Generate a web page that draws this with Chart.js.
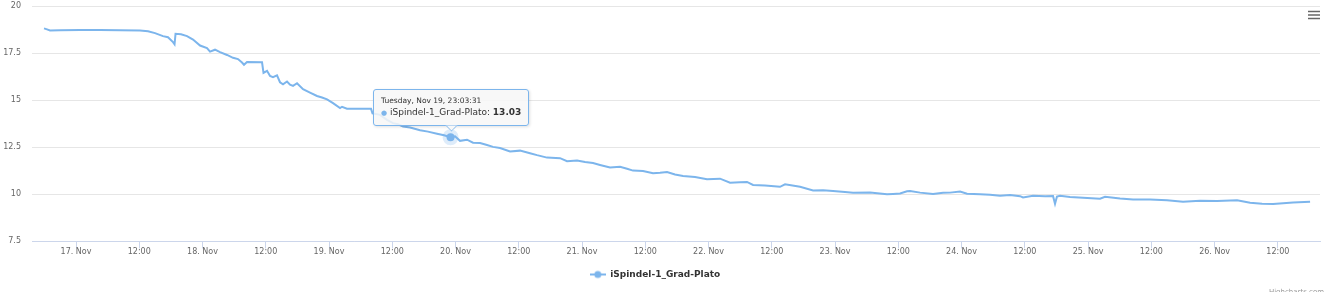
<!DOCTYPE html>
<html>
<head>
<meta charset="utf-8">
<title>iSpindel-1_Grad-Plato</title>
<script src="https://cdn.jsdelivr.net/npm/chart.js@4.4.1/dist/chart.umd.min.js"></script>
<style>
  html, body { margin: 0; padding: 0; background: #fff; }
  #wrap { position: relative; width: 1328px; height: 292px; overflow: hidden; }
  #tip {
    position: absolute; display: none; pointer-events: none;
    font-family: "DejaVu Sans", sans-serif; color: #333;
    background: rgba(247, 247, 247, 0.85);
    border: 1px solid #7cb5ec; border-radius: 3px;
    box-shadow: 1px 1px 3px rgba(0, 0, 0, 0.12);
    padding: 5px 7px 5px 7px; white-space: nowrap;
  }
  #tip .t { font-size: 7.5px; line-height: 11px; }
  #tip .b { font-size: 9px; line-height: 13px; }
  #tip .dot { color: #7cb5ec; font-size: 7px; }
  #tip .arrow {
    position: absolute; left: 50%; bottom: -5px; width: 8px; height: 8px;
    margin-left: -4px; background: #f8f8f8;
    border-right: 1px solid #7cb5ec; border-bottom: 1px solid #7cb5ec;
    transform: rotate(45deg);
    clip-path: polygon(100% 0, 100% 100%, 0 100%);
  }
</style>
</head>
<body>
<div id="wrap">
  <canvas id="chart" width="1328" height="292"></canvas>
  <div id="tip"></div>
</div>
<script>
const seriesName = "iSpindel-1_Grad-Plato";

// hours since 16 Nov 2019 00:00
const hours = [
  17.93, 18.5, 19.07, 20.96, 24.76, 28.55, 32.35, 36.14, 37.66, 38.99,
  40.5, 41.45, 42.4, 42.69, 42.88, 43.92, 45.06, 46.2, 47.53, 48.85,
  49.42, 50.37, 51.32, 52.65, 53.79, 54.73, 55.49, 55.87, 56.44, 59.29,
  59.57, 60.24, 60.81, 61.37, 62.13, 62.7, 63.27, 64.03, 64.6, 65.17,
  65.93, 67.07, 68.39, 69.72, 70.67, 71.62, 72.76, 74.09, 74.47, 75.41,
  77.88, 79.97, 80.25, 81.67, 83.0, 84.14, 85.09, 86.04, 87.37, 89.27,
  90.78, 92.49, 93.82, 95.0586, 95.9, 96.85, 98.18, 99.32, 100.65, 101.97,
  103.11, 104.44, 106.34, 108.23, 110.13, 111.46, 113.36, 115.83, 117.15, 119.05,
  120.57, 122.08, 123.41, 125.31, 127.21, 128.54, 129.67, 131.57, 133.47, 134.8,
  136.13, 137.64, 139.16, 141.44, 143.71, 146.18, 148.08, 149.97, 151.3, 152.44,
  154.72, 157.56, 158.51, 161.36, 163.83, 165.72, 167.62, 169.89, 171.41, 174.64,
  177.86, 179.0, 180.33, 181.66, 182.23, 184.13, 186.59, 188.49, 189.82, 191.72,
  193.04, 195.51, 197.41, 199.3, 201.2, 203.1, 203.66, 205.56, 207.84, 209.35,
  209.73, 210.1, 210.68, 212.58, 215.04, 218.27, 219.22, 222.07, 224.53, 227.76,
  230.98, 234.02, 237.25, 240.47, 244.27, 246.74, 249.01, 251.1, 253.0, 254.9,
  258.12
];

const plato = [
  18.81, 18.76, 18.70, 18.71, 18.72, 18.72, 18.71, 18.70, 18.66, 18.56,
  18.40, 18.34, 18.08, 17.97, 18.52, 18.50, 18.40, 18.22, 17.90, 17.76,
  17.58, 17.68, 17.55, 17.40, 17.25, 17.18, 17.00, 16.88, 17.03, 17.01,
  16.45, 16.56, 16.28, 16.22, 16.32, 15.95, 15.84, 15.99, 15.82, 15.76,
  15.90, 15.58, 15.40, 15.22, 15.14, 15.04, 14.84, 14.58, 14.65, 14.55,
  14.55, 14.54, 14.30, 14.22, 13.95, 13.78, 13.72, 13.60, 13.55, 13.40,
  13.33, 13.22, 13.14, 13.03, 13.08, 12.84, 12.90, 12.74, 12.72, 12.62,
  12.52, 12.46, 12.28, 12.32, 12.18, 12.08, 11.95, 11.92, 11.76, 11.80,
  11.72, 11.66, 11.56, 11.42, 11.46, 11.36, 11.26, 11.24, 11.12, 11.14,
  11.18, 11.05, 10.97, 10.92, 10.80, 10.83, 10.62, 10.64, 10.66, 10.50,
  10.47, 10.40, 10.53, 10.40, 10.20, 10.22, 10.18, 10.12, 10.08, 10.10,
  10.00, 10.02, 10.04, 10.16, 10.18, 10.09, 10.02, 10.08, 10.09, 10.15,
  10.03, 10.00, 9.98, 9.92, 9.96, 9.90, 9.83, 9.92, 9.90, 9.91,
  9.50, 9.88, 9.92, 9.86, 9.82, 9.77, 9.87, 9.78, 9.73, 9.72,
  9.68, 9.60, 9.66, 9.64, 9.68, 9.55, 9.50, 9.48, 9.53, 9.56,
  9.60
];

const yTicks = [7.5, 10, 12.5, 15, 17.5, 20];
const xTicks = [24, 36, 48, 60, 72, 84, 96, 108, 120, 132, 144, 156, 168, 180, 192, 204, 216, 228, 240, 252];
const hoverHour = 95.0586;

const weekdays = ["Sunday", "Monday", "Tuesday", "Wednesday", "Thursday", "Friday", "Saturday"];
const months = ["Jan", "Feb", "Mar", "Apr", "May", "Jun", "Jul", "Aug", "Sep", "Oct", "Nov", "Dec"];
const startMs = Date.UTC(2019, 10, 16);

const pad2 = (n) => String(n).padStart(2, "0");

function stamp(h) {
  const d = new Date(startMs + Math.round(h * 3600) * 1000);
  return `${weekdays[d.getUTCDay()]}, ${months[d.getUTCMonth()]} ${d.getUTCDate()}, ` +
    `${pad2(d.getUTCHours())}:${pad2(d.getUTCMinutes())}:${pad2(d.getUTCSeconds())}`;
}

function tickLabel(h) {
  if (h % 24 === 0) {
    const d = new Date(startMs + h * 3600000);
    return `${d.getUTCDate()}. ${months[d.getUTCMonth()]}`;
  }
  return `${pad2(h % 24)}:00`;
}

// legend symbol: short line with a dot, highcharts style
function legendIcon() {
  const c = document.createElement("canvas");
  c.width = 16;
  c.height = 10;
  const g = c.getContext("2d");
  g.strokeStyle = "#7cb5ec";
  g.lineWidth = 2;
  g.beginPath();
  g.moveTo(0, 5);
  g.lineTo(16, 5);
  g.stroke();
  g.fillStyle = "#7cb5ec";
  g.beginPath();
  g.arc(8, 5, 3.5, 0, Math.PI * 2);
  g.fill();
  return c;
}

function externalTip(context) {
  const { tooltip } = context;
  const el = document.getElementById("tip");
  if (tooltip.opacity === 0 || !tooltip.dataPoints || !tooltip.dataPoints.length) {
    el.style.display = "none";
    return;
  }
  const dp = tooltip.dataPoints[0];
  el.innerHTML =
    `<div class="t">${stamp(dp.parsed.x)}</div>` +
    `<div class="b"><span class="dot">\u25CF</span> ${dp.dataset.label}: <b>${dp.parsed.y.toFixed(2)}</b></div>` +
    `<div class="arrow"></div>`;
  el.style.display = "block";
  el.style.left = Math.round(tooltip.caretX - el.offsetWidth / 2) + "px";
  el.style.top = Math.round(tooltip.caretY - el.offsetHeight - 11) + "px";
}

const extras = {
  id: "extras",
  afterLayout(chart) {
    // highcharts centres the legend a bit left of the canvas middle
    chart.legend.left -= 5;
    chart.legend.right -= 5;
  },
  afterDraw(chart) {
    const ctx = chart.ctx;
    ctx.save();
    // context menu icon
    ctx.strokeStyle = "#666";
    ctx.lineWidth = 1.5;
    [11.5, 15, 18.5].forEach((y) => {
      ctx.beginPath();
      ctx.moveTo(1308, y);
      ctx.lineTo(1320, y);
      ctx.stroke();
    });
    // credits
    ctx.fillStyle = "#999";
    ctx.font = "7px 'DejaVu Sans', sans-serif";
    ctx.textAlign = "right";
    ctx.textBaseline = "alphabetic";
    ctx.fillText("Highcharts.com", 1324, 294);
    ctx.restore();
  },
};

const ctx = document.getElementById("chart").getContext("2d");
const chart = new Chart(ctx, {
  type: "line",
  data: {
    datasets: [
      {
        label: seriesName,
        data: hours.map((h, i) => ({ x: h, y: plato[i] })),
        borderColor: "#7cb5ec",
        backgroundColor: "#7cb5ec",
        borderWidth: 2,
        pointRadius: 0,
        pointHoverRadius: 4,
        pointHoverBackgroundColor: "#7cb5ec",
        pointHoverBorderColor: "rgba(124,181,236,0.25)",
        pointHoverBorderWidth: 8,
        tension: 0,
      },
    ],
  },
  options: {
    responsive: false,
    animation: false,
    events: [],
    layout: { padding: { top: 6, right: 8, bottom: 3, left: 0 } },
    scales: {
      x: {
        type: "linear",
        min: 15.65,
        max: 260,
        afterBuildTicks: (scale) => {
          scale.ticks = xTicks.map((v) => ({ value: v }));
        },
        ticks: {
          callback: (v) => tickLabel(v),
          color: "#666",
          font: { family: "'DejaVu Sans', sans-serif", size: 8 },
          maxRotation: 0,
          autoSkip: false,
          padding: -1,
        },
        grid: { drawOnChartArea: false, drawTicks: true, tickLength: 7, tickColor: "#ccd6eb" },
        border: { color: "#ccd6eb", width: 1 },
      },
      y: {
        min: 7.5,
        max: 20,
        afterBuildTicks: (scale) => {
          scale.ticks = yTicks.map((v) => ({ value: v }));
        },
        afterFit: (scale) => {
          scale.width = 32;
          scale.paddingTop = 0;
          scale.paddingBottom = 0;
        },
        ticks: {
          callback: (v) => String(v),
          color: "#666",
          font: { family: "'DejaVu Sans', sans-serif", size: 8 },
          padding: 11,
        },
        grid: { color: "#e6e6e6", drawTicks: false },
        border: { display: false },
      },
    },
    plugins: {
      legend: {
        position: "bottom",
        labels: {
          usePointStyle: true,
          pointStyle: legendIcon(),
          pointStyleWidth: 16,
          color: "#333",
          font: { family: "'DejaVu Sans', sans-serif", size: 9, weight: "bold" },
          padding: 14,
        },
      },
      tooltip: { enabled: false, external: externalTip },
    },
  },
  plugins: [extras],
});

// show the hovered point as in the screenshot
const idx = hours.indexOf(hoverHour);
const active = [{ datasetIndex: 0, index: idx }];
const pt = chart.getDatasetMeta(0).data[idx];
chart.setActiveElements(active);
chart.tooltip.setActiveElements(active, { x: pt.x, y: pt.y });
chart.update();
</script>
</body>
</html>
